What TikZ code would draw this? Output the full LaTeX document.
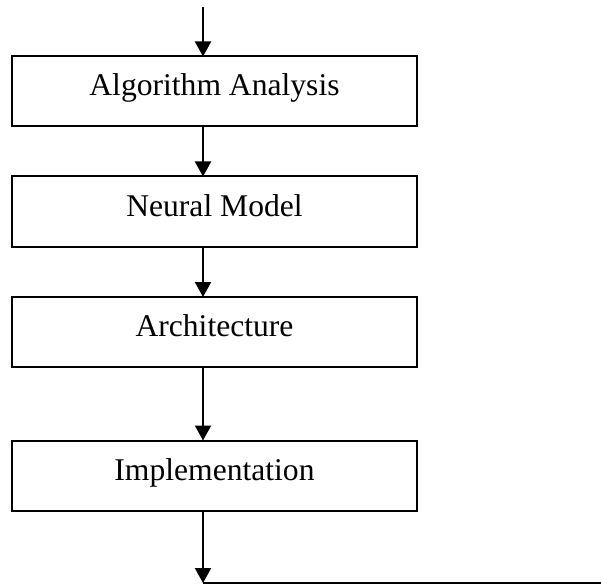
\documentclass[tikz,border=0pt]{standalone}
\usepackage{fontspec}
\setmainfont{Liberation Serif}
\usetikzlibrary{arrows.meta}
\begin{document}
\begin{tikzpicture}[x=1pt,y=-1pt,
  stagebox/.style={draw,line width=2pt,inner sep=0pt,outer sep=0pt,
    minimum width=405pt,minimum height=70pt,
    font=\fontsize{31.6}{36}\selectfont,text height=20pt,text depth=11pt},
  flow/.style={line width=2pt,-{Triangle[width=16pt,length=15pt]}}]
\useasboundingbox (0,0) rectangle (601,585);
% processing stages
\node[stagebox] (alg)  at (214.5,91.5)  {Algorithm Analysis};
\node[stagebox] (neur) at (214.5,211.5) {Neural Model};
\node[stagebox] (arch) at (214.5,332)   {Architecture};
\node[stagebox] (impl) at (214.5,475.5) {Implementation};
% flow axis and free ends
\coordinate (in)   at (203,7);
\coordinate (out)  at (203,583);
\coordinate (tail) at (601,583);
\draw[flow] (in) -- (alg.north -| in);
\draw[flow] (alg.south -| in) -- (neur.north -| in);
\draw[flow] (neur.south -| in) -- (arch.north -| in);
\draw[flow] (arch.south -| in) -- (impl.north -| in);
\draw[flow] (impl.south -| in) -- (out);
\draw[line width=2pt] (out) -- (tail);
\end{tikzpicture}
\end{document}
